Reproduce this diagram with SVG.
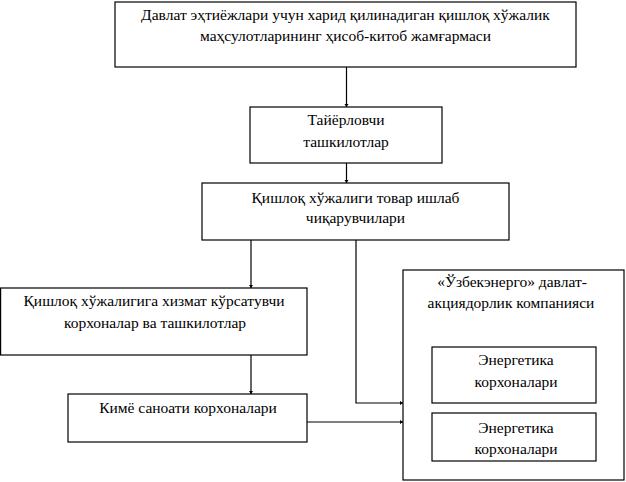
<svg xmlns="http://www.w3.org/2000/svg" width="626" height="482" viewBox="0 0 626 482">
<style>
rect{fill:#fff;stroke:#000;stroke-width:1.2}
text{fill:#000;text-anchor:middle;font-family:"Liberation Serif","Times New Roman",Times,serif;font-size:15.5px}
.c{fill:none;stroke:#000;stroke-width:1.2}
</style>
<defs>
<marker id="a" markerUnits="userSpaceOnUse" markerWidth="5" markerHeight="5" refX="3" refY="2" orient="auto">
<path d="M0,0 L3,2 L0,4 Z" fill="#000"/>
</marker>
</defs>
<rect x="0" y="0" width="626" height="482" style="stroke:none"/>
<g id="connectors">
<path class="c" d="M346.5,67 V107" marker-end="url(#a)"/>
<path class="c" d="M346.5,163 V183" marker-end="url(#a)"/>
<path class="c" d="M251,240 V288" marker-end="url(#a)"/>
<path class="c" d="M251,355 V394" marker-end="url(#a)"/>
<path class="c" d="M356,240 V403 H403" marker-end="url(#a)"/>
<path class="c" d="M307,422 H403" marker-end="url(#a)"/>
</g>
<g id="n1">
<rect x="115" y="2" width="461" height="65"/>
<text x="345.5" y="20" font-family="Liberation Serif">Давлат эҳтиёжлари учун харид қилинадиган қишлоқ хўжалик</text>
<text x="345.5" y="41">маҳсулотларининг ҳисоб-китоб жамғармаси</text>
</g>
<g id="n2">
<rect x="250" y="107" width="192" height="56"/>
<text x="346" y="125">Тайёрловчи</text>
<text x="346" y="147">ташкилотлар</text>
</g>
<g id="n3">
<rect x="202" y="183" width="307" height="57"/>
<text x="355.5" y="203">Қишлоқ хўжалиги товар ишлаб</text>
<text x="355.5" y="223">чиқарувчилари</text>
</g>
<g id="n4">
<rect x="0.6" y="288" width="306.4" height="67"/>
<text x="154" y="306">Қишлоқ хўжалигига хизмат кўрсатувчи</text>
<text x="155" y="328">корхоналар ва ташкилотлар</text>
</g>
<g id="n5">
<rect x="68" y="394" width="239" height="48"/>
<text x="188" y="413">Кимё саноати корхоналари</text>
</g>
<g id="n6">
<rect x="403" y="270" width="221" height="210"/>
<text x="512" y="287">«Ўзбекэнерго» давлат-</text>
<text x="511" y="308">акциядорлик компанияси</text>
</g>
<g id="n7">
<rect x="432" y="347" width="164" height="56"/>
<text x="516" y="365">Энергетика</text>
<text x="516" y="387">корхоналари</text>
</g>
<g id="n8">
<rect x="432" y="413" width="164" height="48"/>
<text x="516" y="433">Энергетика</text>
<text x="516" y="454">корхоналари</text>
</g>
</svg>
